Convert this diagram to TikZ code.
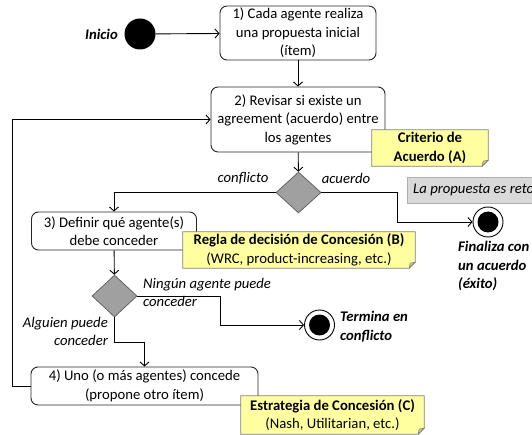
\documentclass[tikz,border=0pt]{standalone}
\usepackage{fontspec}
\setmainfont{Carlito}
\usetikzlibrary{shapes.geometric,arrows.meta,calc}
\pgfdeclarelayer{notebg}
\pgfdeclarelayer{notefg}
\pgfsetlayers{main,notebg,notefg}
\definecolor{noteyellow}{RGB}{255,255,160}
\definecolor{noteborder}{RGB}{128,128,128}
\definecolor{notefold}{RGB}{205,205,130}
\definecolor{diafill}{RGB}{160,160,160}
\definecolor{diaborder}{RGB}{100,100,100}
\definecolor{infogray}{RGB}{217,217,217}
\newcommand\notebackground[1]{%
  \filldraw[fill=noteyellow,draw=noteborder,line width=0.8pt]
    (#1.north west) -- (#1.north east) -- ([yshift=6pt]#1.south east)
    -- ([xshift=-6pt]#1.south east) -- (#1.south west) -- cycle;
  \filldraw[fill=notefold,draw=noteborder,line width=0.6pt]
    ([yshift=6pt]#1.south east) -- ([xshift=-6pt]#1.south east)
    -- ([xshift=-5pt,yshift=5pt]#1.south east) -- cycle;}
\tikzset{
  base/.style={font=\fontsize{14.7}{18.5}\selectfont},
  actbox/.style={base,draw=black!85,line width=0.9pt,rounded corners=7pt,fill=white,
    align=center,inner sep=0pt},
  notebox/.style={base,align=center,inner sep=0pt},
  decision/.style={diamond,fill=diafill,draw=diaborder,line width=0.8pt,inner sep=0pt},
  startdot/.style={circle,fill=black,minimum size=31pt,inner sep=0pt},
  enddot/.style={circle,draw=black,fill=white,line width=0.9pt,minimum size=30pt,inner sep=0pt,
    path picture={\fill[black] (path picture bounding box.center) circle (10.5pt);}},
  arr/.style={line width=0.9pt,-{Straight Barb[length=4pt,width=9pt]}},
  lbl/.style={base,font=\fontsize{14.7}{18.5}\selectfont\itshape,inner sep=0pt,align=left},
  blbl/.style={base,font=\fontsize{14.7}{18.5}\selectfont\bfseries\itshape,inner sep=0pt,align=left},
}
\begin{document}
\begin{tikzpicture}[x=1pt,y=-1pt]
\useasboundingbox (0,0) rectangle (532,435);
\clip (0,0) rectangle (532,435);
% start
\node[startdot] (start) at (140,34) {};
\node[blbl,anchor=east] (inicio) at (118,34) {Inicio};
% activities
\node[actbox,minimum width=156pt,minimum height=54pt] (b1) at (298,33)
  {1) Cada agente realiza\\una propuesta inicial\\(ítem)};
\node[actbox,minimum width=174pt,minimum height=65pt] (b2) at (298,119.5)
  {2) Revisar si existe un\\agreement (acuerdo) entre\\los agentes};
\node[actbox,minimum width=165pt,minimum height=38pt] (b3) at (114,231)
  {3) Definir qué agente(s)\\debe conceder};
\node[actbox,minimum width=227pt,minimum height=38pt] (b4) at (144.5,386)
  {4) Uno (o más agentes) concede\\(propone otro ítem)};
% decisions
\node[decision,minimum width=45pt,minimum height=41pt] (d1) at (298.5,192.5) {};
\node[decision,minimum width=45pt,minimum height=42pt] (d2) at (114.5,296) {};
% ends
\node[enddot] (f1) at (488,222) {};
\node[enddot] (f2) at (319.5,325) {};
% info box
\node[lbl,fill=infogray,draw=infogray!80!black,line width=0.4pt,anchor=west,
  minimum height=26pt,inner xsep=6pt] (info) at (407,190) {La propuesta es retornada};
% labels
\node[lbl] (lconf) at (243,178) {conflicto};
\node[lbl] (lacu) at (346,178) {acuerdo};
\node[lbl,anchor=north west] (lning) at (143,278) {Ningún agente puede\\conceder};
\node[lbl,anchor=north east,align=right] (lalg) at (108,317) {Alguien puede\\conceder};
\node[blbl,anchor=north west] (lfin) at (458,241) {Finaliza con\\un acuerdo\\(éxito)};
\node[blbl,anchor=north west] (lterm) at (340,311) {Termina en\\conflicto};
% connectors
\coordinate (k1) at (397,192.5);
\coordinate (k2) at (220,296);
\coordinate (k3) at (114.5,342);
\coordinate (k4) at (12,386);
\draw[arr] (start) -- (b1);
\draw[arr] (b1) -- (b2);
\draw[arr] (b2) -- (d1);
\draw[arr] (d1.west) -| (b3.north);
\draw[arr] (d1.east) -- (k1) |- (f1);
\draw[arr] (b3) -- (d2);
\draw[arr] (d2.east) -- (k2) |- (f2);
\draw[arr] (d2.south) -- (k3) -| (b4.north);
\draw[arr] (b4.west) -- (k4) |- (b2.west);
% notes
\begin{pgfonlayer}{notefg}
\node[notebox,font=\fontsize{14.7}{18.5}\selectfont\bfseries,minimum width=116pt,minimum height=36pt] (nA) at (430,148)
  {Criterio de\\Acuerdo (A)};
\node[notebox,minimum width=232pt,minimum height=36pt] (nB) at (299,250)
  {\textbf{Regla de decisión de Concesión (B)}\\(WRC, product-increasing, etc.)};
\node[notebox,minimum width=183pt,minimum height=38pt] (nC) at (332.5,415)
  {\textbf{Estrategia de Concesión (C)}\\(Nash, Utilitarian, etc.)};
\end{pgfonlayer}
\begin{pgfonlayer}{notebg}
\notebackground{nA}
\notebackground{nB}
\notebackground{nC}
\end{pgfonlayer}
\end{tikzpicture}
\end{document}
